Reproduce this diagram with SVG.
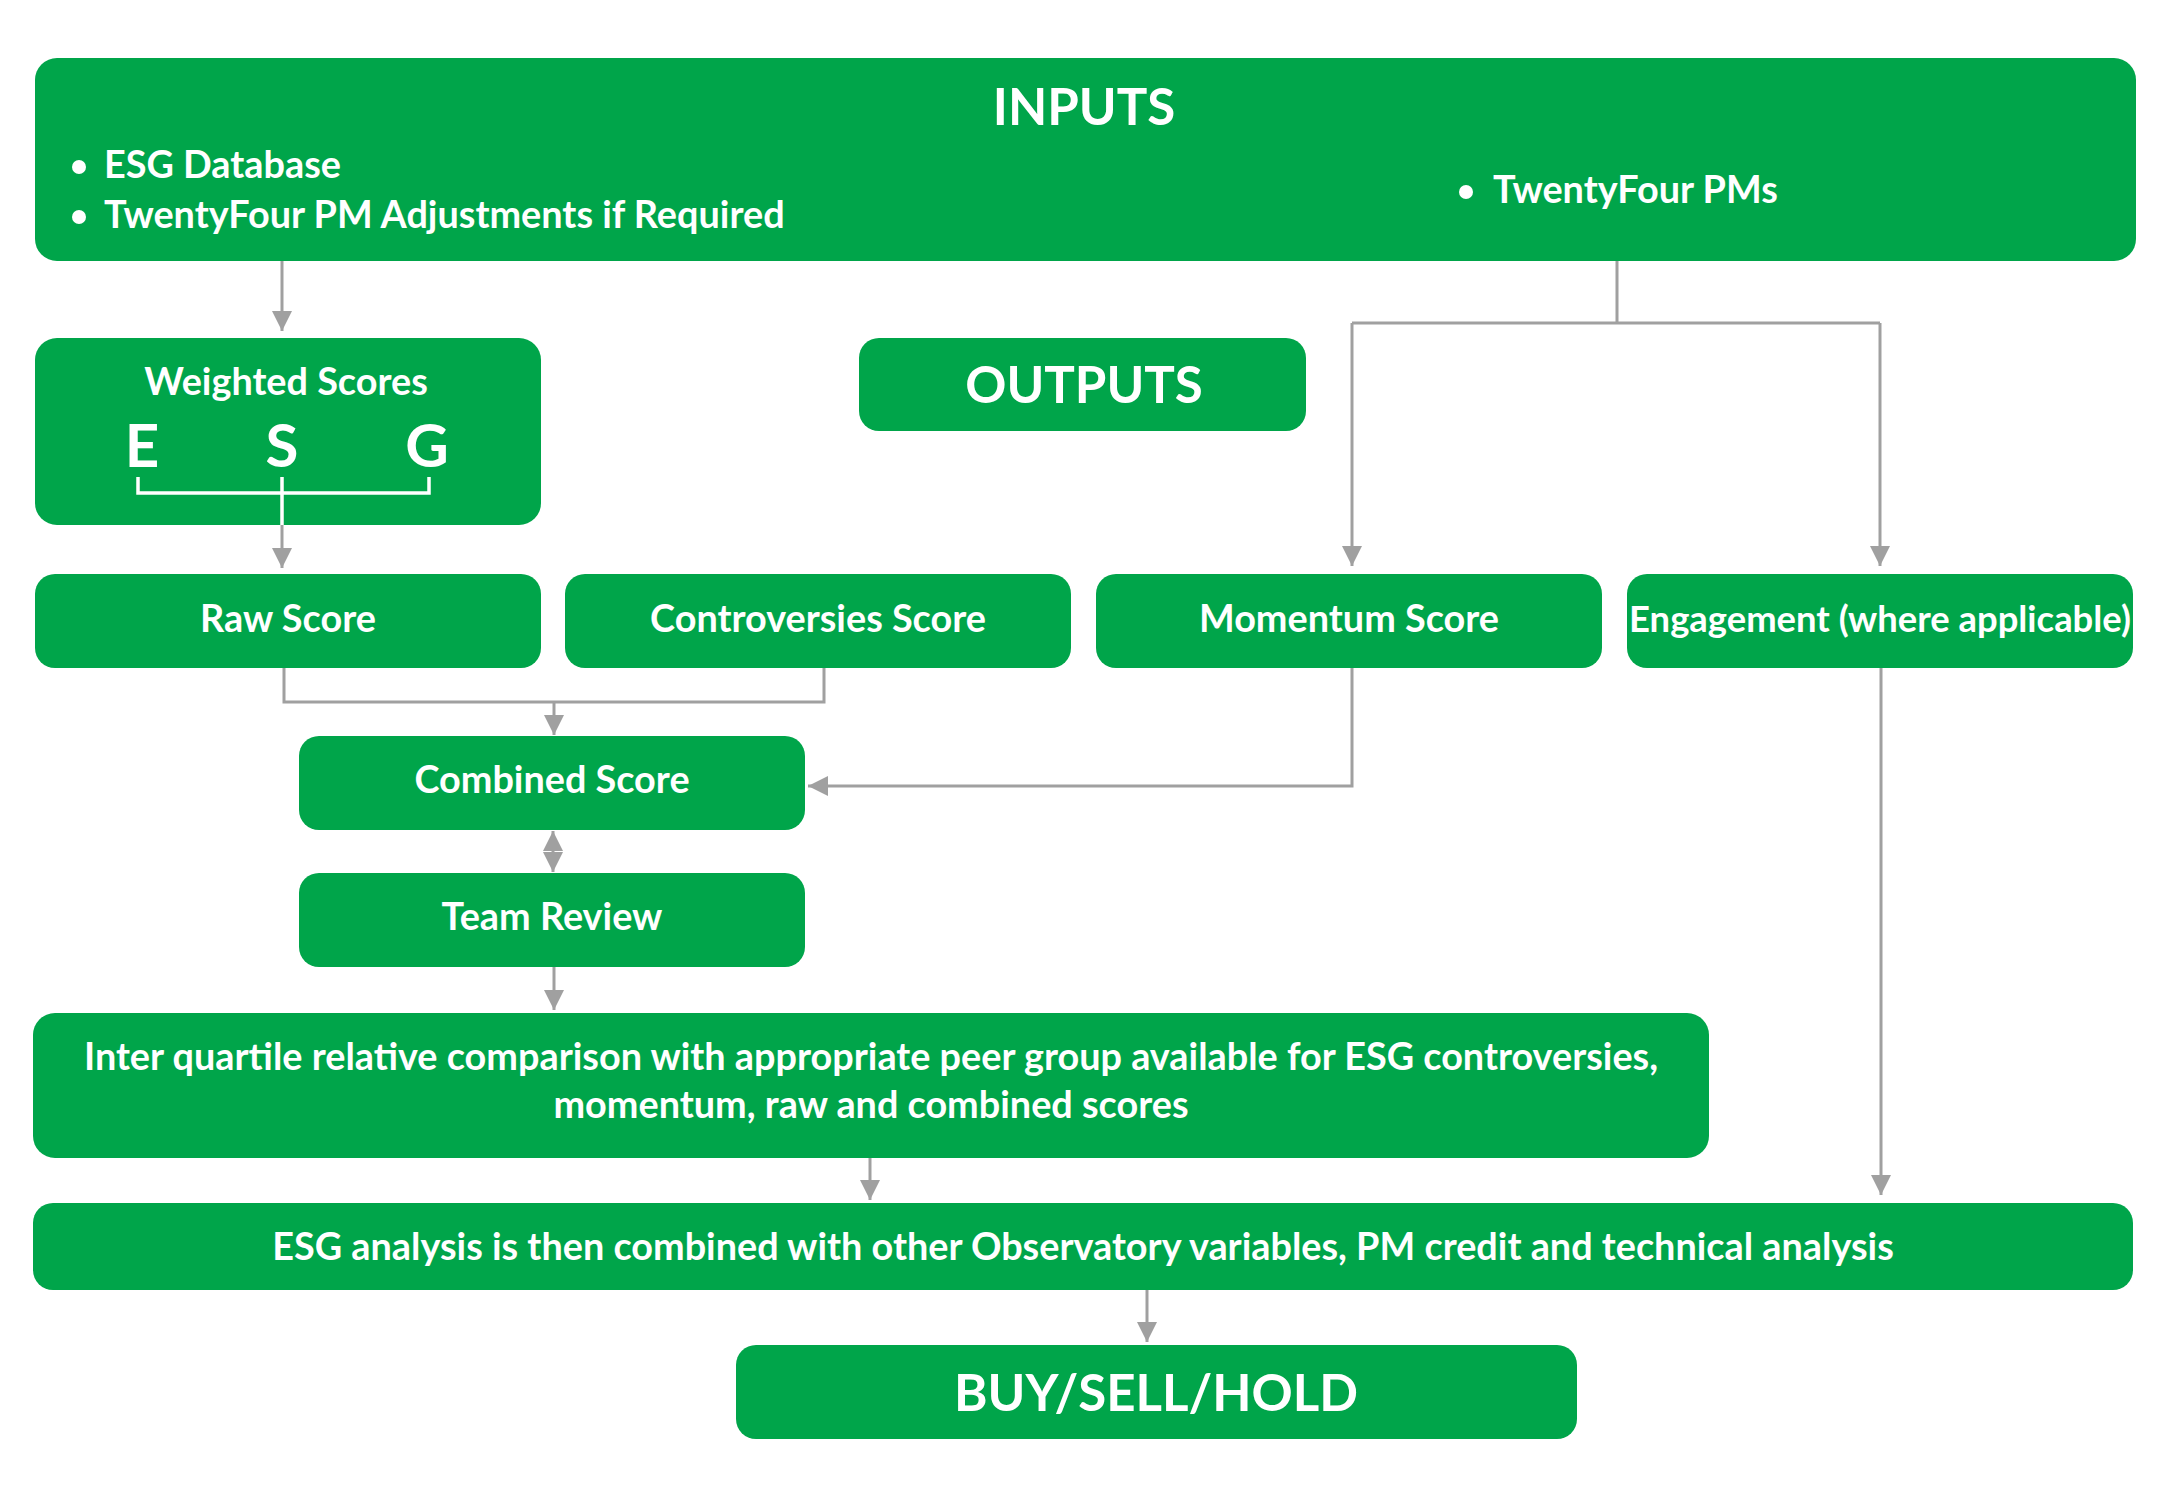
<svg xmlns="http://www.w3.org/2000/svg" width="2179" height="1500" viewBox="0 0 2179 1500">
<style>
.box{fill:#00A54A}
.t{font-family:Lato,"Liberation Sans",sans-serif;fill:#fff;font-weight:700;font-size:37.8px}
.c{text-anchor:middle}
.title{font-weight:700;font-size:51px}
.ln{fill:none;stroke:#A0A0A0;stroke-width:3}
.wl{fill:none;stroke:#fff;stroke-width:3.5}
</style>
<defs>
<marker id="ah" viewBox="0 0 20 20" refX="20" refY="10" markerWidth="20" markerHeight="20" markerUnits="userSpaceOnUse" orient="auto-start-reverse">
<path d="M0,0 L20,10 L0,20 z" fill="#A0A0A0"/>
</marker>
</defs>
<rect width="2179" height="1500" fill="#fff"/>

<g id="connectors">
<path class="ln" d="M282,261 V331" marker-end="url(#ah)"/>
<path class="ln" d="M1617,261 V323 M1352,323 H1880"/>
<path class="ln" d="M1352,323 V566" marker-end="url(#ah)"/>
<path class="ln" d="M1880,323 V566" marker-end="url(#ah)"/>
<path class="ln" d="M282,525 V568" marker-end="url(#ah)"/>
<path class="ln" d="M284,668 V702 H824 V668"/>
<path class="ln" d="M554,702 V735" marker-end="url(#ah)"/>
<path class="ln" d="M1352,668 V786 H808" marker-end="url(#ah)"/>
<path class="ln" d="M553,831 V872" marker-start="url(#ah)" marker-end="url(#ah)"/>
<path class="ln" d="M554,967 V1010" marker-end="url(#ah)"/>
<path class="ln" d="M870,1158 V1200" marker-end="url(#ah)"/>
<path class="ln" d="M1881,668 V1195" marker-end="url(#ah)"/>
<path class="ln" d="M1147,1290 V1342" marker-end="url(#ah)"/>
</g>

<g id="inputs">
<rect class="box" x="35" y="58" width="2101" height="203" rx="22"/>
<text class="t c title" x="1084" y="125">INPUTS</text>
<circle cx="79" cy="167" r="7" fill="#fff"/>
<text class="t" x="104" y="178">ESG Database</text>
<circle cx="79" cy="217" r="7" fill="#fff"/>
<text class="t" x="104" y="228">TwentyFour PM Adjustments if Required</text>
<circle cx="1466" cy="192" r="7" fill="#fff"/>
<text class="t" x="1493" y="203">TwentyFour PMs</text>
</g>

<g id="weighted">
<rect class="box" x="35" y="338" width="506" height="187" rx="22"/>
<text class="t c" x="286" y="395">Weighted Scores</text>
<text class="t c" x="142" y="467" style="font-size:60px">E</text>
<text class="t c" x="282" y="467" style="font-size:60px">S</text>
<text class="t c" x="427" y="467" style="font-size:60px">G</text>
<path class="wl" d="M138,477 V493 H429 V477 M282,477 V525"/>
</g>

<g id="outputs">
<rect class="box" x="859" y="338" width="447" height="93" rx="20"/>
<text class="t c title" x="1084" y="403">OUTPUTS</text>
</g>

<g id="raw">
<rect class="box" x="35" y="574" width="506" height="94" rx="20"/>
<text class="t c" x="288" y="632">Raw Score</text>
</g>
<g id="controversies">
<rect class="box" x="565" y="574" width="506" height="94" rx="20"/>
<text class="t c" x="818" y="632">Controversies Score</text>
</g>
<g id="momentum">
<rect class="box" x="1096" y="574" width="506" height="94" rx="20"/>
<text class="t c" x="1349" y="632">Momentum Score</text>
</g>
<g id="engagement">
<rect class="box" x="1627" y="574" width="506" height="94" rx="20"/>
<text class="t c" x="1880" y="632" style="font-size:36.4px">Engagement (where applicable)</text>
</g>

<g id="combined">
<rect class="box" x="299" y="736" width="506" height="94" rx="20"/>
<text class="t c" x="552" y="793">Combined Score</text>
</g>
<g id="team">
<rect class="box" x="299" y="873" width="506" height="94" rx="20"/>
<text class="t c" x="552" y="930">Team Review</text>
</g>

<g id="interquartile">
<rect class="box" x="33" y="1013" width="1676" height="145" rx="22"/>
<text class="t c" x="871" y="1070">Inter quartile relative comparison with appropriate peer group available for ESG controversies,</text>
<text class="t c" x="871" y="1118">momentum, raw and combined scores</text>
</g>

<g id="esganalysis">
<rect class="box" x="33" y="1203" width="2100" height="87" rx="20"/>
<text class="t c" x="1083" y="1260">ESG analysis is then combined with other Observatory variables, PM credit and technical analysis</text>
</g>

<g id="buysellhold">
<rect class="box" x="736" y="1345" width="841" height="94" rx="20"/>
<text class="t c title" x="1156" y="1411">BUY/SELL/HOLD</text>
</g>
</svg>
